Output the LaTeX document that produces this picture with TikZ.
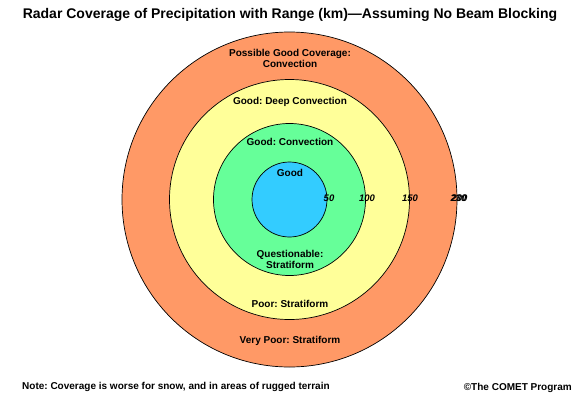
\documentclass[tikz,border=0pt]{standalone}
\usepackage{fontspec}
\setmainfont{Liberation Sans}
\frenchspacing
\definecolor{ringorange}{HTML}{FF9966}
\definecolor{ringyellow}{HTML}{FFFF99}
\definecolor{ringgreen}{HTML}{66FF99}
\definecolor{ringblue}{HTML}{33CCFF}
\newcommand{\ZoneFont}{\fontsize{10}{11.5}\selectfont\bfseries}
\newcommand{\RangeFont}{\fontsize{9.5}{11}\selectfont\bfseries\itshape}
\newcommand{\FootFont}{\fontsize{10}{11}\selectfont\bfseries}
\newcommand{\RangeRing}[2]{%
  \draw[ring,fill=#2] (289.5,199.5) circle[radius=#1];
}

\begin{document}
\begin{tikzpicture}[x=1pt,y=-1pt,text=black,
  ring/.style={draw=black,line width=.7pt},
  zonelabel/.style={font=\ZoneFont,align=center,anchor=north,inner sep=0pt},
  rangelabel/.style={font=\RangeFont,anchor=center,inner sep=0pt}]
  \useasboundingbox[fill=white] (0,0) rectangle (580,399);
  % range rings, outside in
  \RangeRing{167.5}{ringorange}
  \RangeRing{120}{ringyellow}
  \RangeRing{76}{ringgreen}
  \RangeRing{37.5}{ringblue}
  % title
  \node[font=\fontsize{14}{16}\selectfont\bfseries,anchor=north,inner sep=0pt] (title) at (290,8)
    {Radar Coverage of Precipitation with Range (km)—Assuming No Beam Blocking};
  % zone labels
  \node[zonelabel] (possible) at (290,49) {Possible Good Coverage:\\Convection};
  \node[zonelabel] (deepconv) at (290,97) {Good: Deep Convection};
  \node[zonelabel] (goodconv) at (290,138) {Good: Convection};
  \node[zonelabel] (good) at (290,169) {Good};
  \node[zonelabel] (questionable) at (290,250) {Questionable:\\Stratiform};
  \node[zonelabel] (poor) at (290,300) {Poor: Stratiform};
  \node[zonelabel] (verypoor) at (290,336) {Very Poor: Stratiform};
  % range values
  \node[rangelabel] (r50) at (329,198.5) {50};
  \node[rangelabel] (r100) at (367,198.5) {100};
  \node[rangelabel] (r150) at (410,198.5) {150};
  \node[rangelabel] (r200) at (459.5,198.5) {200};
  \node[rangelabel] (r230) at (458.5,198.5) {230};
  % notes
  \node[font=\FootFont,anchor=north west,inner sep=0pt] (note) at (22,382)
    {Note: Coverage is worse for snow, and in areas of rugged terrain};
  \node[font=\FootFont,anchor=north east,inner sep=0pt] (credit) at (572,383)
    {©The COMET Program};
\end{tikzpicture}
\end{document}
